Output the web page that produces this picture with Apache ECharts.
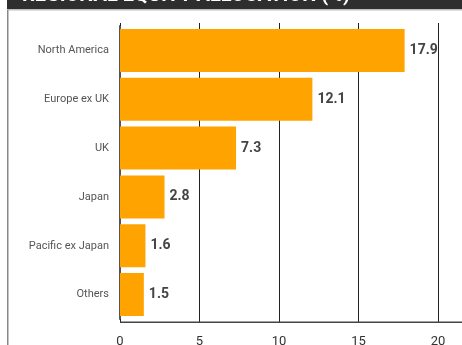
<!DOCTYPE html>
<html><head><meta charset="utf-8">
<script src="https://cdn.jsdelivr.net/npm/echarts@6/dist/echarts.min.js"></script>
<style>html,body{margin:0;padding:0;background:#fff}#c{width:462px;height:345px}</style>
</head><body><div id="c"></div>
<script>
var title = 'REGIONAL EQUITY ALLOCATION (%)';
var categories = ['North America', 'Europe ex UK', 'UK', 'Japan', 'Pacific ex Japan', 'Others'];
var values = [17.9, 12.1, 7.3, 2.8, 1.6, 1.5];
var xTicks = [0, 5, 10, 15, 20];

var font = 'Roboto';
var chart = echarts.init(document.getElementById('c'), null, {renderer: 'canvas'});
chart.setOption({
  animation: false,
  backgroundColor: '#fff',
  grid: {left: 120, right: 24, top: 26, bottom: 26, containLabel: false, outerBoundsMode: 'none'},
  xAxis: [{
    type: 'value', min: xTicks[0], max: xTicks[xTicks.length - 1], interval: 5,
    position: 'bottom', offset: 3,
    axisLine: {show: false},
    axisTick: {show: true, inside: true, length: 3, lineStyle: {color: '#222', width: 1}},
    axisLabel: {fontFamily: font, fontSize: 13, color: '#333', margin: 13},
    splitLine: {show: true, lineStyle: {color: '#222', width: 1}}
  }, {
    type: 'value', min: xTicks[0], max: xTicks[xTicks.length - 1], interval: 5,
    position: 'top',
    axisLine: {show: false},
    axisTick: {show: true, inside: false, length: 3, lineStyle: {color: '#222', width: 1}},
    axisLabel: {show: false},
    splitLine: {show: false}
  }],
  yAxis: {
    type: 'category', data: categories, inverse: true,
    axisLine: {show: true, lineStyle: {color: '#555', width: 2}},
    axisTick: {show: false},
    axisLabel: {fontFamily: font, fontSize: 11, color: '#555', margin: 11}
  },
  series: [{
    type: 'bar', data: values, barCategoryGap: '12%',
    itemStyle: {color: '#FFA300'},
    label: {show: true, position: 'right', distance: 5, fontFamily: font, fontSize: 14, fontWeight: 'bold', color: '#444'}
  }],
  graphic: [
    {type: 'rect', shape: {x: 7, y: 0, width: 455, height: 9}, style: {fill: '#2e2e2e'}, z: 10},
    {type: 'rect', shape: {x: 7, y: 9, width: 455, height: 1.5}, style: {fill: '#bdbdbd'}, z: 10},
    {type: 'rect', shape: {x: 7, y: 10, width: 1.5, height: 335}, style: {fill: '#888'}, z: 10},
    {type: 'text', left: 22, top: -14, style: {text: title, fill: '#fff', font: 'bold 20px Roboto'}, z: 11},
    {type: 'rect', shape: {x: 120, y: 321.5, width: 342, height: 1.5}, style: {fill: '#444'}, z: 10}
  ]
});
</script>
</body></html>
